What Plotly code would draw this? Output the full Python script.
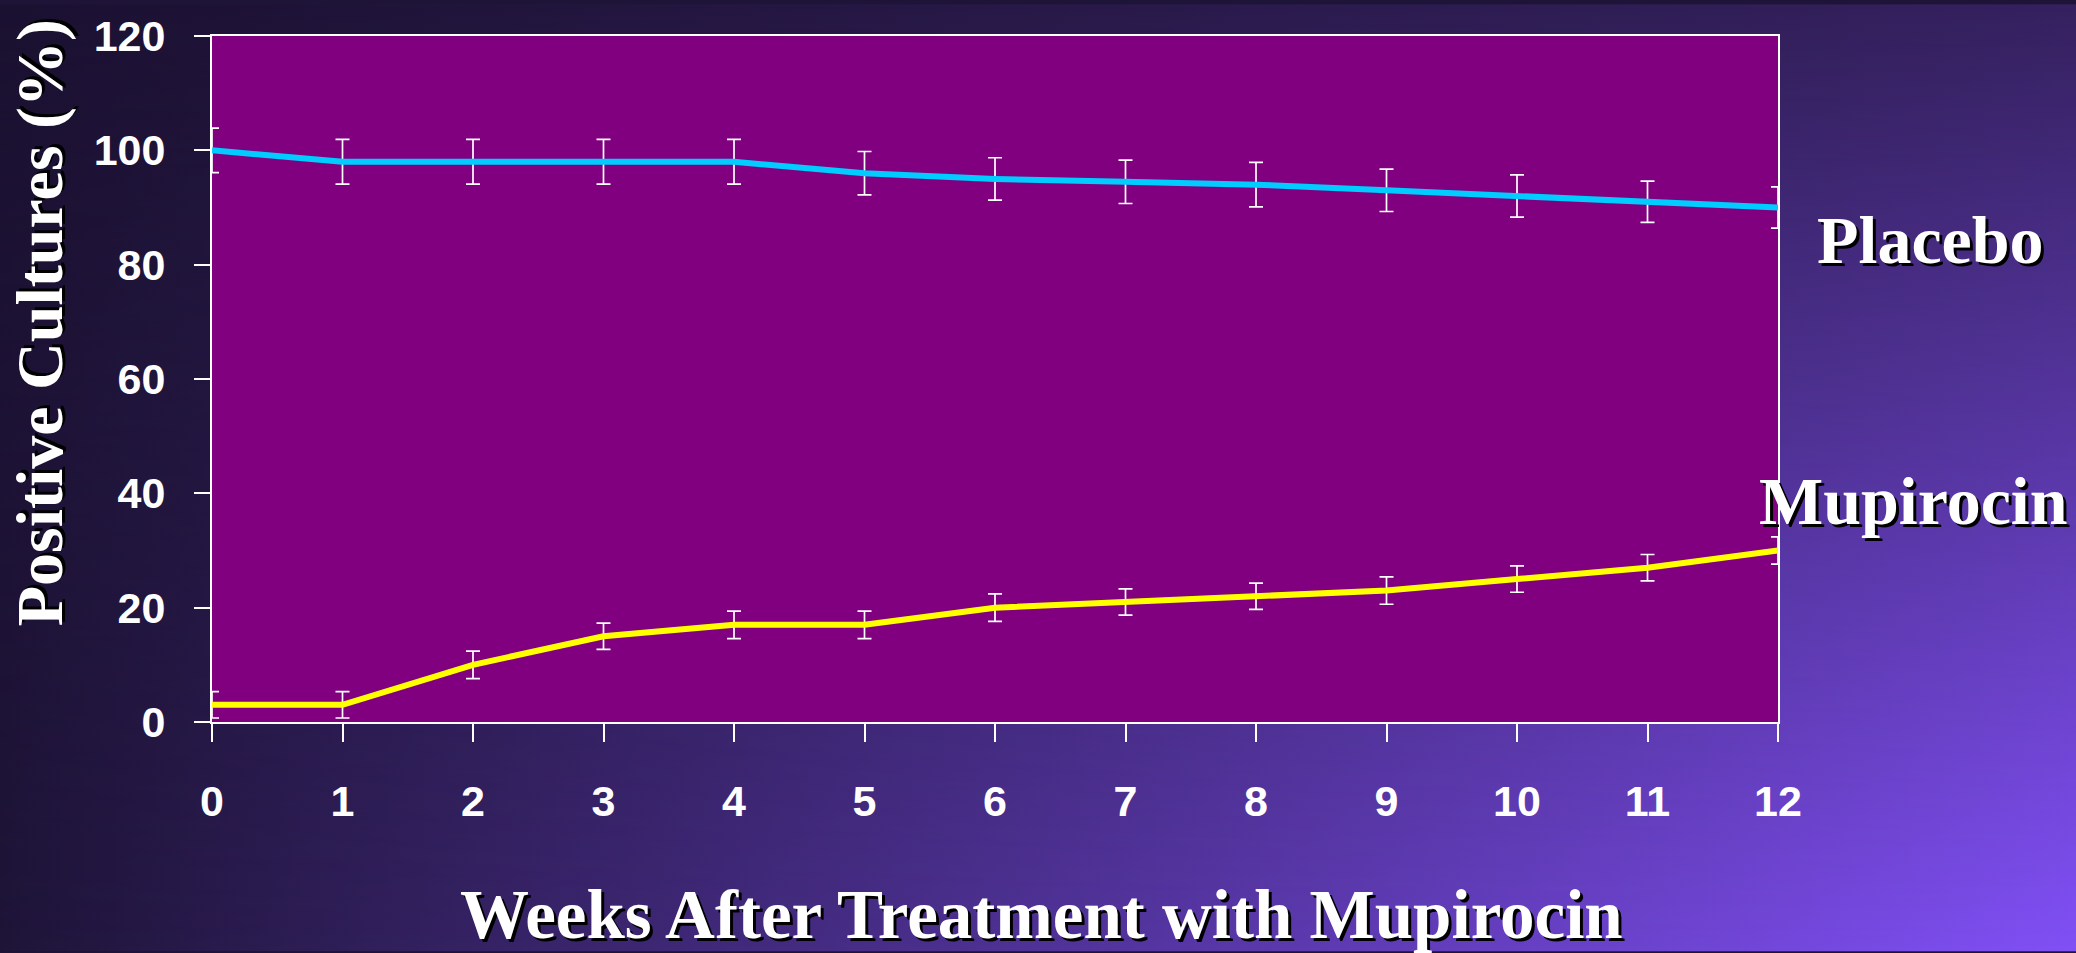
import base64
import plotly.graph_objects as go

# ---- data ----
weeks = list(range(13))
week_labels = [str(w) for w in weeks]
placebo = [100, 98, 98, 98, 98, 96, 95, 94.5, 94, 93, 92, 91, 90]
placebo_err = [3.9, 3.9, 3.9, 3.9, 3.9, 3.8, 3.7, 3.8, 3.9, 3.7, 3.7, 3.6, 3.6]
mupirocin = [3, 3, 10, 15, 17, 17, 20, 21, 22, 23, 25, 27, 30]
mupirocin_err = [2.3, 2.3, 2.4, 2.3, 2.4, 2.4, 2.4, 2.3, 2.3, 2.4, 2.3, 2.3, 2.4]
y_ticks = [0, 20, 40, 60, 80, 100, 120]

W, H = 2076, 953
ML, MR, MT, MB = 212, 298, 32, 231
PW, PH = W - ML - MR, H - MT - MB

# background: bilinear blend of four corner colours
TL, TR, BL, BR = "#1b1131", "#35215f", "#1e1438", "#8150f6"
svg = f'''<svg xmlns="http://www.w3.org/2000/svg" width="{W}" height="{H}" viewBox="0 0 {W} {H}" preserveAspectRatio="none">
<defs>
<linearGradient id="top" x1="0" y1="0" x2="1" y2="0"><stop offset="0" stop-color="{TL}"/><stop offset="1" stop-color="{TR}"/></linearGradient>
<linearGradient id="bot" x1="0" y1="0" x2="1" y2="0"><stop offset="0" stop-color="{BL}"/><stop offset="1" stop-color="{BR}"/></linearGradient>
<linearGradient id="v" x1="0" y1="0" x2="0" y2="1"><stop offset="0" stop-color="black"/><stop offset="1" stop-color="white"/></linearGradient>
<mask id="m" maskUnits="userSpaceOnUse" x="0" y="0" width="{W}" height="{H}"><rect width="{W}" height="{H}" fill="url(#v)"/></mask>
</defs>
<rect width="{W}" height="{H}" fill="url(#top)"/>
<rect width="{W}" height="{H}" fill="url(#bot)" mask="url(#m)"/>
</svg>'''
bg_src = "data:image/svg+xml;base64," + base64.b64encode(svg.encode()).decode()

fig = go.Figure()

fig.add_trace(go.Scatter(
    x=weeks, y=placebo, mode="lines", name="Placebo",
    line=dict(color="#00ccff", width=6),
    error_y=dict(type="data", array=placebo_err, visible=True,
                 color="white", thickness=1.7, width=7),
    showlegend=False,
))
fig.add_trace(go.Scatter(
    x=weeks, y=mupirocin, mode="lines", name="Mupirocin",
    line=dict(color="#ffff00", width=6),
    error_y=dict(type="data", array=mupirocin_err, visible=True,
                 color="white", thickness=1.7, width=7),
    showlegend=False,
))

title_font = dict(family="Liberation Serif", size=68, color="white",
                  weight="bold", shadow="3px 3px 0px black")
tick_font = dict(family="Liberation Sans", size=43, color="white", weight="bold")

fig.update_layout(
    width=W, height=H,
    margin=dict(l=ML, r=MR, t=MT, b=MB, pad=0),
    paper_bgcolor="#1e1438",
    plot_bgcolor="rgba(0,0,0,0)",
    images=[dict(source=bg_src, xref="paper", yref="paper",
                 x=-ML / PW, y=1 + MT / PH, sizex=W / PW, sizey=H / PH,
                 xanchor="left", yanchor="top", sizing="stretch", layer="below")],
    shapes=[dict(type="rect", xref="paper", yref="paper", x0=0, x1=1, y0=0, y1=1,
                 fillcolor="#800080", line=dict(width=0), layer="below")],
    xaxis=dict(range=[0, 12], tickvals=weeks, ticktext=week_labels,
               showgrid=False, zeroline=False,
               showline=True, linecolor="white", linewidth=2, mirror=True,
               ticks="outside", ticklen=18, tickwidth=1.5, tickcolor="white",
               tickfont=tick_font, ticklabelstandoff=22),
    yaxis=dict(range=[0, 120], tickvals=y_ticks,
               showgrid=False, zeroline=False,
               showline=True, linecolor="white", linewidth=2, mirror=True,
               ticks="outside", ticklen=16, tickwidth=1.5, tickcolor="white",
               tickfont=tick_font, ticklabelstandoff=20),
    annotations=[
        dict(text="Weeks After Treatment with Mupirocin", xref="paper", yref="paper",
             x=(1041 - ML) / PW, y=(MT + PH - 916) / PH, xanchor="center", yanchor="middle",
             showarrow=False, font=dict(title_font, size=69)),
        dict(text="Positive Cultures (%)", xref="paper", yref="paper",
             x=(40 - ML) / PW, y=(MT + PH - 321) / PH, xanchor="center", yanchor="middle",
             textangle=-90, showarrow=False, font=dict(title_font, size=66)),
        dict(text="Placebo", xref="paper", yref="paper",
             x=(1930 - ML) / PW, y=(MT + PH - 237) / PH, xanchor="center", yanchor="middle",
             showarrow=False, font=title_font),
        dict(text="Mupirocin", xref="paper", yref="paper",
             x=(1913 - ML) / PW, y=(MT + PH - 500) / PH, xanchor="center", yanchor="middle",
             showarrow=False, font=title_font),
    ],
)

fig.write_html("out.html", config={"displayModeBar": False},
               post_script="document.body.style.margin='0';document.body.style.overflow='hidden';")
